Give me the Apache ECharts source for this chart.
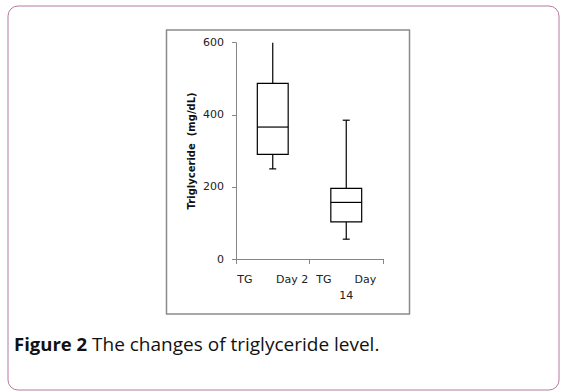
<!DOCTYPE html>
<html><head><meta charset="utf-8">
<script src="https://cdn.jsdelivr.net/npm/echarts@6/dist/echarts.min.js"></script>
<style>html,body{margin:0;padding:0;background:#fff}#c{width:561px;height:392px}</style>
</head><body><div id="c"></div>
<script>
var categories = ['TG Day 2', 'TG Day 14'];
var mins    = [250, 55];
var q1s     = [290, 103];
var medians = [366, 157];
var q3s     = [487, 196];
var maxs    = [600, 385];
var yTicks  = [0, 200, 400, 600];
var yTitle  = 'Triglyceride  (mg/dL)';
var captionBold = 'Figure 2';
var captionText = ' The changes of triglyceride level.';

var yMin = yTicks[0], yMax = yTicks[yTicks.length - 1], yStep = yTicks[1] - yTicks[0];
var data = categories.map(function (c, i) { return [i, mins[i], q1s[i], medians[i], q3s[i], maxs[i]]; });
var FF = '"DejaVu Sans", Verdana, sans-serif';

var chart = echarts.init(document.getElementById('c'), null, {renderer: 'svg'});
chart.setOption({
  animation: false,
  backgroundColor: '#fff',
  grid: {left: 236, right: 178, top: 42.7, bottom: 133},
  xAxis: {
    type: 'category', data: categories, boundaryGap: true,
    axisLine: {lineStyle: {color: '#868686', width: 1}},
    axisTick: {show: true, length: 5, lineStyle: {color: '#868686'}},
    axisLabel: {
      margin: 12, color: '#222', fontFamily: FF, fontSize: 11, interval: 0,
      formatter: function (v, i) {
        var p = v.split(' ');
        if (i === 0) return '{a|' + p[0] + '}{b|' + p[1] + ' ' + p[2] + '}';
        return '{a|' + p[0] + '}{c|' + p[1] + '}\n{d|' + p[2] + '}';
      },
      rich: {
        a: {width: 40, align: 'left', fontFamily: FF, fontSize: 11, color: '#222', lineHeight: 16},
        b: {width: 31, align: 'right', fontFamily: FF, fontSize: 11, color: '#222', lineHeight: 16},
        c: {width: 20, align: 'right', fontFamily: FF, fontSize: 11, color: '#222', lineHeight: 16},
        d: {fontFamily: FF, fontSize: 11, color: '#222', lineHeight: 16}
      }
    },
    splitLine: {show: false}
  },
  yAxis: {
    type: 'value', min: yMin, max: yMax, interval: yStep,
    name: yTitle, nameLocation: 'middle', nameGap: 40, nameRotate: 90,
    nameTextStyle: {fontFamily: FF, fontWeight: 'bold', fontSize: 10, color: '#111'},
    axisLine: {show: true, lineStyle: {color: '#868686', width: 1}},
    axisTick: {show: true, length: 4, lineStyle: {color: '#868686'}},
    axisLabel: {margin: 12, color: '#222', fontFamily: FF, fontSize: 11},
    splitLine: {show: false}
  },
  series: [{
    type: 'custom',
    data: data,
    encode: {x: 0, y: [1, 2, 3, 4, 5]},
    renderItem: function (params, api) {
      var x = api.value(0);
      var band = api.size([1, 0])[0];
      var hw = band * 0.21;
      var capW = 3.5;
      var pMin = api.coord([x, api.value(1)]);
      var pQ1 = api.coord([x, api.value(2)]);
      var pMed = api.coord([x, api.value(3)]);
      var pQ3 = api.coord([x, api.value(4)]);
      var pMax = api.coord([x, api.value(5)]);
      var cx = pMed[0];
      var st = {stroke: '#000', lineWidth: 1.2, fill: null};
      var ch = [
        {type: 'line', shape: {x1: cx, y1: pMax[1], x2: cx, y2: pQ3[1]}, style: st},
        {type: 'line', shape: {x1: cx, y1: pQ1[1], x2: cx, y2: pMin[1]}, style: st},
        {type: 'rect', shape: {x: cx - hw, y: pQ3[1], width: 2 * hw, height: pQ1[1] - pQ3[1]}, style: {stroke: '#000', lineWidth: 1.2, fill: '#fff'}},
        {type: 'line', shape: {x1: cx - hw, y1: pMed[1], x2: cx + hw, y2: pMed[1]}, style: st},
        {type: 'line', shape: {x1: cx - capW, y1: pMin[1], x2: cx + capW, y2: pMin[1]}, style: st}
      ];
      if (api.value(5) < yMax) ch.push({type: 'line', shape: {x1: cx - capW, y1: pMax[1], x2: cx + capW, y2: pMax[1]}, style: st});
      return {type: 'group', children: ch};
    }
  }],
  graphic: [
    {type: 'rect', left: 5.5, top: 3.5, shape: {width: 551, height: 384, r: 10}, style: {fill: null, stroke: '#b77aa0', lineWidth: 1}, z: -10},
    {type: 'rect', left: 164, top: 27.5, shape: {width: 243, height: 284}, style: {fill: null, stroke: '#8a8a8a', lineWidth: 1.5}, z: -5},
    {type: 'text', left: 14, top: 334, style: {
      text: '{b|' + captionBold + '}{n|' + captionText + '}',
      rich: {
        b: {fontFamily: 'Open Sans', fontWeight: 'bold', fontSize: 18.5, fill: '#111'},
        n: {fontFamily: 'Open Sans', fontSize: 19, fill: '#111'}
      }
    }}
  ]
});
</script></body></html>
